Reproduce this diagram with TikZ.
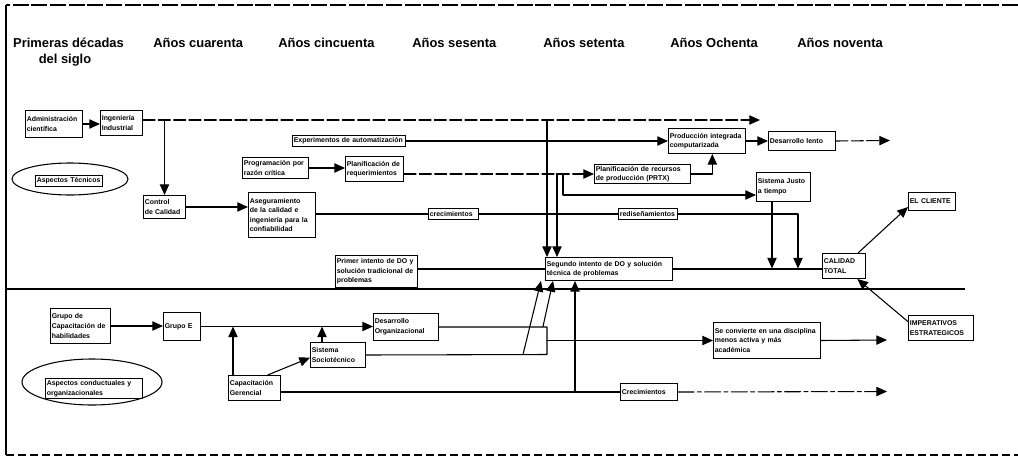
\documentclass[tikz,border=0pt]{standalone}
\usepackage{fontspec}
\setmainfont{Liberation Sans}
\usetikzlibrary{arrows.meta,calc,shapes.geometric}

\newcommand\bxfont{\fontsize{5.2}{7.2}\selectfont\bfseries}
\newcommand\hdfont{\fontsize{9.7}{12}\selectfont\bfseries}

% box from its corners (x1,y1)-(x2,y2), in pixel units
\newcommand\abox[6]{%
  \pgfmathsetmacro\bxw{(#4-#2)*0.75}%
  \pgfmathsetmacro\bxh{(#5-#3)*0.75}%
  \pgfmathsetmacro\bxt{(#4-#2)*0.75-2}%
  \node[bx, minimum width=\bxw pt, minimum height=\bxh pt, text width=\bxt pt] (#1) at (#2,#3) {#6};}

\tikzset{
  ln/.style={line width=0.8pt, line cap=round, line join=round},
  arr/.style={ln, -{Triangle[length=8pt,width=7pt]}},
  dsh/.style={dash pattern=on 9pt off 2.5pt},
  dashdot/.style={dash pattern=on 12pt off 2.5pt on 3pt off 2.5pt},
  bx/.style={draw, line width=0.75pt, anchor=north west, align=left, font=\bxfont,
             inner xsep=1pt, inner ysep=0.8pt},
  hd/.style={font=\hdfont, inner sep=0pt},
}

\begin{document}
\begin{tikzpicture}[x=0.75pt, y=-0.75pt]
\useasboundingbox (0,0) rectangle (1018,465);

% frame
\draw[line width=0.9pt, dash pattern=on 12pt off 2pt] (1018,5) -- (6,5);
\draw[line width=0.8pt] (6,5) -- (6,455);
\draw[line width=0.8pt, dash pattern=on 6pt off 3pt] (6,455) -- (1018,455);

% decades
\node[hd, anchor=base] (h1a) at (68.5,47) {Primeras décadas};
\node[hd, anchor=base] (h1b) at (65,63) {del siglo};
\node[hd, anchor=base west] (h2) at (153,47) {Años cuarenta};
\node[hd, anchor=base west] (h3) at (278,47) {Años cincuenta};
\node[hd, anchor=base west] (h4) at (412,47) {Años sesenta};
\node[hd, anchor=base west] (h5) at (543,47) {Años setenta};
\node[hd, anchor=base west] (h6) at (670,47) {Años Ochenta};
\node[hd, anchor=base west] (h7) at (797,47) {Años noventa};

% divider between the two halves
\coordinate (divL) at (6,289);
\coordinate (divR) at (965,289);
\draw[line width=2.2pt] (divL) -- (divR);

% ---------- technical aspects ----------
\node[draw, ellipse, ln, inner sep=0pt, minimum width=87pt, minimum height=24pt] (ellT) at (70,179) {};
\abox{asT}{35}{175}{102}{186}{Aspectos Técnicos}

\abox{adm}{25}{110}{82}{137}{Administración\\científica}
\abox{ing}{100}{110}{142}{135}{Ingeniería\\Industrial}
\abox{exp}{292}{135}{405}{146}{Experimentos~de~automatización}
\abox{prod}{668}{128}{745}{153}{Producción integrada\\computarizada}
\abox{des}{768}{131}{835}{150}{Desarrollo lento}
\abox{prog}{242}{157}{308}{178}{Programación por\\razón crítica}
\abox{preq}{345}{156}{403}{181}{Planificación de\\requerimientos}
\abox{prtx}{594}{164}{690}{183}{Planificación de recursos\\de producción (PRTX)}
\abox{sist}{756}{172}{810}{201}{Sistema Justo\\a tiempo}
\abox{ctrl}{143}{195}{185}{218}{Control\\de Calidad}
\abox{aseg}{248}{192}{315}{237}{Aseguramiento\\de la calidad e\\ingeniería para la\\confiabilidad}
\abox{crec1}{428}{208}{478}{219}{crecimientos}
\abox{redi}{618}{208}{677}{219}{rediseñamientos}
\abox{cli}{908}{192}{955}{210}{EL CLIENTE}
\abox{primer}{335}{255}{417}{287}{Primer intento de DO y\\solución tradicional de\\problemas}
\abox{seg}{545}{257}{672}{280}{Segundo intento de DO y solución\\técnica de problemas}
\abox{cal}{822}{253}{865}{278}{CALIDAD\\TOTAL}

\draw[arr] (adm.east) -- (ing.west |- adm.east);
\coordinate (topR) at (760,120);
\draw[arr, dsh] (ing.east |- topR) -- (topR);
\draw[arr] (ctrl.north |- topR) -- (ctrl.north);
\coordinate (v1) at (547,120);
\draw[arr] (v1) -- (v1 |- seg.north);

\draw[arr] (exp.east) -- (prod.west |- exp.east);
\draw[arr] (prod.east) -- (des.west |- prod.east);
\coordinate (desR) at (890,140.5);
\draw[arr, dsh] (des.east) -- (desR);

\draw[arr] (prog.east) -- (preq.west |- prog.east);
\draw[arr, dsh] (preq.east |- prtx.west) -- (prtx.west);
\coordinate (v2) at (557,173.5);
\draw[arr] (v2) -- (v2 |- seg.north);
\coordinate (v3) at (563,173.5);
\coordinate (sjIn) at (756,195);
\draw[arr] (v3) |- (sjIn);
\draw[arr] (prtx.east) -| ([xshift=4pt]prod.south);

\draw[arr] (ctrl.east) -- (aseg.west |- ctrl.east);
\draw[ln] (aseg.east |- crec1.west) -- (crec1.west);
\draw[ln] (crec1.east) -- (redi.west);
\coordinate (rdD) at (798,268.5);
\draw[arr] (redi.east) -| (rdD);
\coordinate (sjD) at (772,268.5);
\draw[arr] (sjD |- sist.south) -- (sjD);

\draw[ln] (primer.east |- seg.west) -- (seg.west);
\draw[ln] (seg.east) -- (cal.west |- seg.east);
\draw[arr] ([xshift=-6pt]cal.north east) -- ([yshift=3pt]cli.south west);

% ---------- behavioural and organisational aspects ----------
\node[draw, ellipse, ln, inner sep=0pt, minimum width=105pt, minimum height=34.5pt] (ellC) at (92,382) {};
\abox{asC}{45}{378}{142}{398}{Aspectos conductuales y\\organizacionales}

\abox{gcap}{50}{308}{110}{343}{Grupo de\\Capacitación de\\habilidades}
\abox{ge}{163}{312}{200}{340}{Grupo E}
\abox{do}{373}{313}{438}{340}{Desarrollo\\Organizacional}
\abox{soc}{310}{342}{365}{367}{Sistema\\Sociotécnico}
\abox{capg}{228}{375}{280}{400}{Capacitación\\Gerencial}
\abox{se}{713}{322}{820}{358}{Se convierte en una disciplina\\menos activa y más\\académica}
\abox{crec2}{620}{383}{677}{400}{Crecimientos}
\abox{imp}{908}{315}{973}{340}{IMPERATIVOS\\ESTRATEGICOS}

\draw[arr] ([yshift=-5pt]imp.north west) -- ([xshift=10pt]cal.south);

\draw[arr] (gcap.east) -- (ge.west |- gcap.east);
\draw[arr] (ge.east) -- (do.west |- ge.east);
\coordinate (cgUp) at (233,375);
\draw[arr] (cgUp) -- (cgUp |- ge.east);
\coordinate (scUp) at (322,342);
\draw[arr] (scUp) -- (scUp |- ge.east);
\draw[arr] ([xshift=-10pt]capg.north east) -- ([yshift=-2pt]soc.west);

\coordinate (j2) at (547,354.5);
\draw[ln] (do.east) -| (j2) -- (soc.east);
\draw[arr] (j2 |- se.west) -- (se.west);
\coordinate (seR) at (887,340);
\draw[arr] (se.east) -- (seR);

\coordinate (d1) at (523,354.5);
\draw[arr] (d1) -- ([xshift=-3pt]seg.south west);
\coordinate (d2) at (543,326.5);
\draw[arr] (d2) -- ([xshift=6pt]seg.south west);

\draw[ln] (capg.east |- crec2.west) -- (crec2.west);
\coordinate (j3) at (575,391.5);
\draw[arr] (j3) -- (j3 |- seg.south);
\coordinate (crR) at (887,391.5);
\draw[arr, dashdot] (crec2.east) -- (crR);
\end{tikzpicture}
\end{document}
